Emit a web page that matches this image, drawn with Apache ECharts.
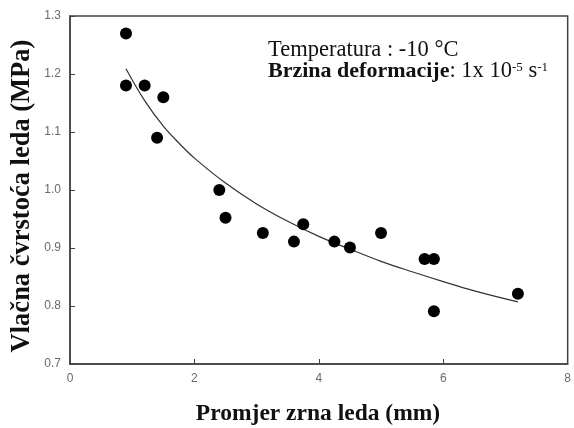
<!DOCTYPE html>
<html><head><meta charset="utf-8">
<script src="https://cdn.jsdelivr.net/npm/echarts@6/dist/echarts.min.js"></script>
<style>html,body{margin:0;padding:0;background:#fff}#c{width:574px;height:428px}</style>
</head><body><div id="c"></div>
<script>
// Measured points: grain diameter (mm), tensile strength (MPa)
const grainSize = [0.9, 0.9, 1.2, 1.5, 1.4, 2.4, 2.5, 3.1, 3.6, 3.75, 4.25, 4.5, 5.0, 5.7, 5.85, 5.85, 7.2];
const strength  = [1.27, 1.18, 1.18, 1.16, 1.09, 1.0, 0.952, 0.926, 0.911, 0.941, 0.911, 0.901, 0.926, 0.881, 0.881, 0.791, 0.821];
// Fitted curve
const curveX = [0.9, 1.2, 1.5, 1.75, 2.0, 2.5, 3.0, 3.5, 4.0, 4.5, 5.0, 5.5, 6.0, 6.5, 7.2];
const curveY = [1.209, 1.154, 1.110, 1.081, 1.055, 1.012, 0.976, 0.946, 0.920, 0.898, 0.877, 0.859, 0.842, 0.826, 0.807];
const xTicks = [0, 2, 4, 6, 8];
const yTicks = [0.7, 0.8, 0.9, 1.0, 1.1, 1.2, 1.3];
const xTitle = 'Promjer zrna leda (mm)';
const yTitle = 'Vlačna čvrstoća leda (MPa)';

const chart = echarts.init(document.getElementById('c'));
const labelStyle = {color: '#6a6a6a', fontFamily: 'Arial, Liberation Sans, sans-serif', fontSize: 12};
chart.setOption({
  animation: false,
  grid: {left: 70, right: 4, top: 16, bottom: 64, show: true, borderColor: '#444', borderWidth: 1.5, backgroundColor: 'transparent'},
  xAxis: {
    type: 'value', min: xTicks[0], max: xTicks[xTicks.length-1], interval: 2,
    axisLine: {lineStyle: {color: '#444', width: 1.5}},
    axisTick: {inside: true, length: 5, lineStyle: {color: '#444'}},
    axisLabel: Object.assign({margin: 9}, labelStyle),
    splitLine: {show: false}
  },
  yAxis: {
    type: 'value', min: yTicks[0], max: yTicks[yTicks.length-1], interval: 0.1,
    axisLine: {lineStyle: {color: '#444', width: 1.5}},
    axisTick: {inside: true, length: 5, lineStyle: {color: '#444'}},
    axisLabel: Object.assign({margin: 9, formatter: v => v.toFixed(1)}, labelStyle),
    splitLine: {show: false}
  },
  graphic: [{
    type: 'text', left: 268, top: 39,
    style: {
      rich: {
        n: {fontFamily: 'Liberation Serif, serif', fontSize: 22.5, fill: '#111'},
        b: {fontFamily: 'Liberation Serif, serif', fontSize: 22, fontWeight: 'bold', fill: '#111'},
        s: {fontFamily: 'Liberation Serif, serif', fontSize: 13, fill: '#111', verticalAlign: 'top', padding: [0,0,8,0]}
      },
      text: '{n|Temperatura : -10 °C}\n{b|Brzina deformacije}{n|: 1x 10}{s|-5}{n| s}{s|-1}',
      lineHeight: 20.5
    }
  }, {
    type: 'text', x: 318, y: 414,
    style: {text: xTitle, fontFamily: 'Liberation Serif, serif', fontWeight: 'bold', fontSize: 23.5, fill: '#111', align: 'center', verticalAlign: 'middle'}
  }, {
    type: 'text', x: 22, y: 196, rotation: Math.PI / 2,
    style: {text: yTitle, fontFamily: 'Liberation Serif, serif', fontWeight: 'bold', fontSize: 26.5, fill: '#111', align: 'center', verticalAlign: 'middle'}
  }],
  series: [{
    type: 'line', data: curveX.map((x, i) => [x, curveY[i]]), smooth: 0.4, showSymbol: false,
    lineStyle: {color: '#333', width: 1.2}, z: 2
  }, {
    type: 'scatter', data: grainSize.map((x, i) => [x, strength[i]]), symbolSize: 12,
    itemStyle: {color: '#000', opacity: 1}, z: 3
  }]
});
</script></body></html>
